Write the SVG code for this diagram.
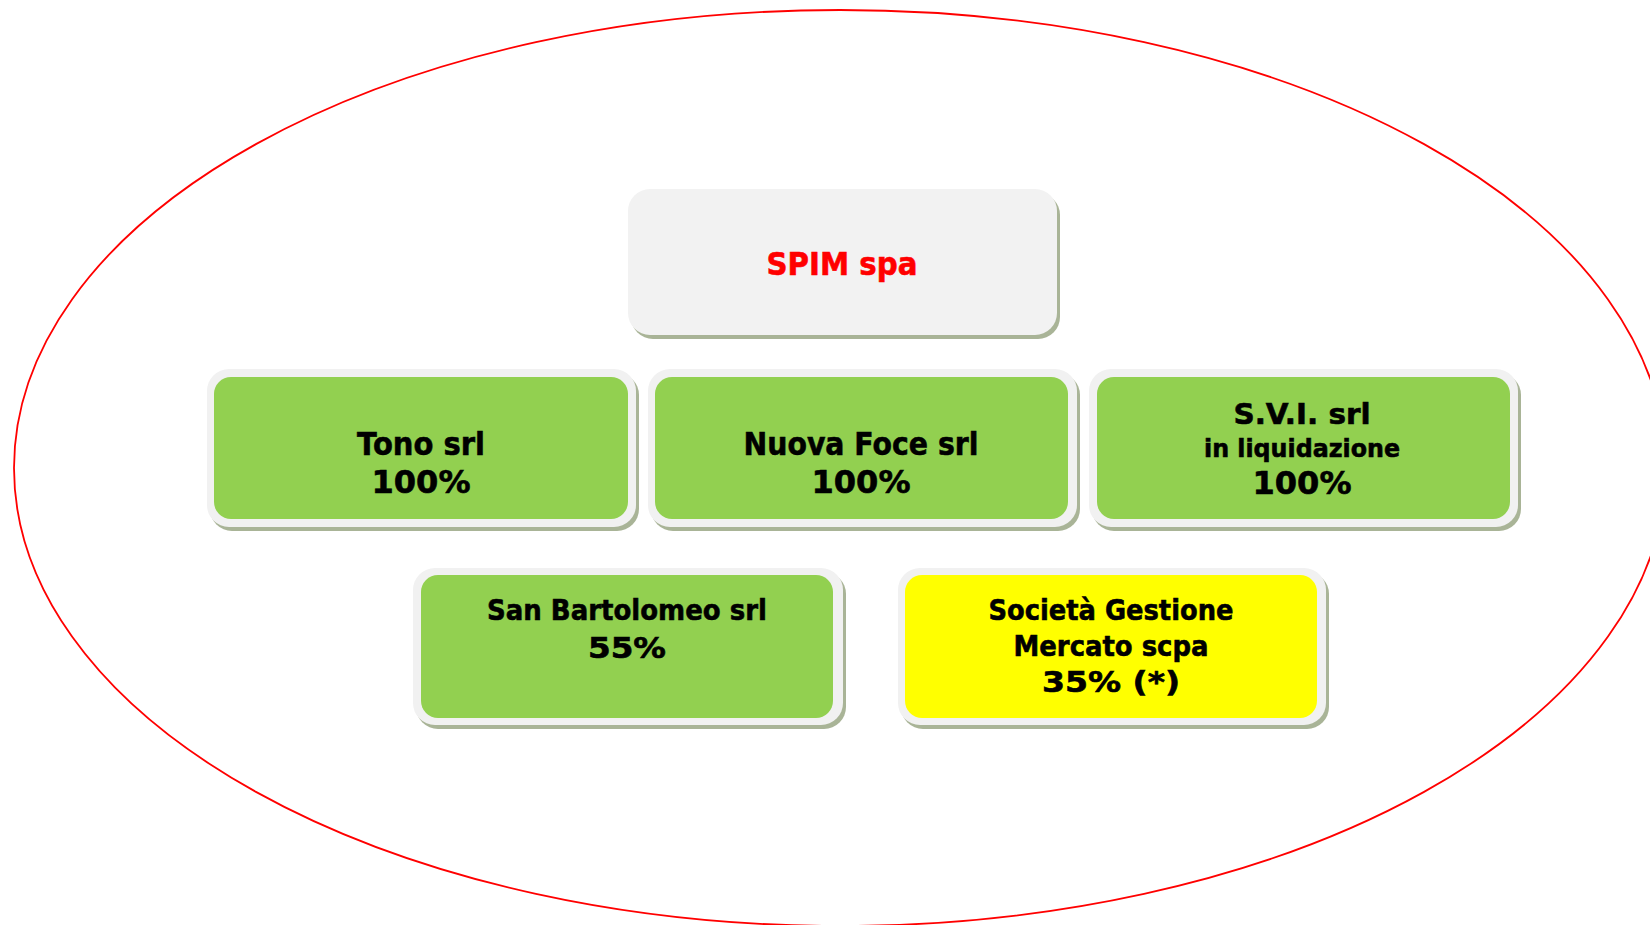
<svg xmlns="http://www.w3.org/2000/svg" width="1650" height="925" viewBox="0 0 1650 925">
<style>
.shadow{fill:#a9b497}
.frame{fill:#f1f1f1}
.green{fill:#92d050}
.yellow{fill:#ffff00}
.t{font-family:"DejaVu Sans","Liberation Sans",sans-serif;font-weight:bold;text-anchor:middle;fill:#000000;stroke:#000000;stroke-width:0.6}
.red{fill:#ff0000;stroke:#ff0000}
.big{font-size:32px}
.mid{font-size:29px}
.small{font-size:25px}
</style>
<rect width="1650" height="925" fill="#ffffff"/>
<ellipse cx="840" cy="468" rx="826" ry="458" fill="none" stroke="#ff0000" stroke-width="1.8"/>
<g id="connectors"/>
<g id="spim">
<rect class="shadow" x="631" y="193" width="429" height="146" rx="22"/>
<rect x="628" y="189" width="429" height="146" rx="22" fill="#f2f2f2"/>
<text class="t big red" x="842" y="275" textLength="151" lengthAdjust="spacingAndGlyphs">SPIM spa</text>
</g>
<g id="tono">
<rect class="shadow" x="210" y="373" width="429" height="158" rx="22"/>
<rect class="frame" x="207" y="369" width="429" height="158" rx="22"/>
<rect class="green" x="214" y="377" width="414" height="142" rx="17"/>
<text class="t big" x="421" y="455" textLength="128" lengthAdjust="spacingAndGlyphs">Tono srl</text>
<text class="t big" x="421" y="493" textLength="99" lengthAdjust="spacingAndGlyphs">100%</text>
</g>
<g id="nuovafoce">
<rect class="shadow" x="651" y="373" width="429" height="158" rx="22"/>
<rect class="frame" x="648" y="369" width="429" height="158" rx="22"/>
<rect class="green" x="655" y="377" width="413" height="142" rx="17"/>
<text class="t big" x="861" y="455" textLength="235" lengthAdjust="spacingAndGlyphs">Nuova Foce srl</text>
<text class="t big" x="861" y="493" textLength="99" lengthAdjust="spacingAndGlyphs">100%</text>
</g>
<g id="svi">
<rect class="shadow" x="1092" y="373" width="429" height="158" rx="22"/>
<rect class="frame" x="1089" y="369" width="429" height="158" rx="22"/>
<rect class="green" x="1097" y="377" width="413" height="142" rx="17"/>
<text class="t mid" x="1302" y="424" textLength="137" lengthAdjust="spacingAndGlyphs">S.V.I. srl</text>
<text class="t small" x="1302" y="457" textLength="196" lengthAdjust="spacingAndGlyphs">in liquidazione</text>
<text class="t big" x="1302" y="494" textLength="99" lengthAdjust="spacingAndGlyphs">100%</text>
</g>
<g id="sanbartolomeo">
<rect class="shadow" x="416" y="572" width="430" height="157" rx="22"/>
<rect class="frame" x="413" y="568" width="430" height="157" rx="22"/>
<rect class="green" x="421" y="575" width="412" height="143" rx="17"/>
<text class="t mid" x="627" y="620" textLength="280" lengthAdjust="spacingAndGlyphs">San Bartolomeo srl</text>
<text class="t mid" x="627" y="658" textLength="78" lengthAdjust="spacingAndGlyphs">55%</text>
</g>
<g id="sgm">
<rect class="shadow" x="901" y="572" width="428" height="157" rx="22"/>
<rect class="frame" x="898" y="568" width="428" height="157" rx="22"/>
<rect class="yellow" x="905" y="575" width="412" height="143" rx="17"/>
<text class="t mid" x="1111" y="620" textLength="245" lengthAdjust="spacingAndGlyphs">Società Gestione</text>
<text class="t mid" x="1111" y="656" textLength="195" lengthAdjust="spacingAndGlyphs">Mercato scpa</text>
<text class="t mid" x="1111" y="692" textLength="138" lengthAdjust="spacingAndGlyphs">35% (*)</text>
</g>
</svg>
